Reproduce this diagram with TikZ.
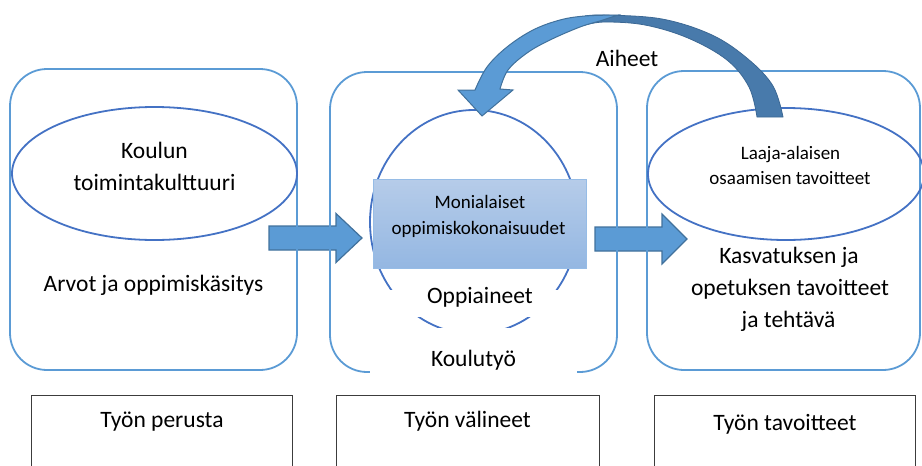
\documentclass[tikz,border=0pt]{standalone}
\usepackage{fontspec}
\setmainfont{Carlito}
\usetikzlibrary{shapes.geometric}
\definecolor{boxblue}{RGB}{91,155,213}
\definecolor{ellblue}{RGB}{68,114,196}
\definecolor{arrowfill}{RGB}{91,155,213}
\definecolor{arrowdraw}{RGB}{65,113,156}
\definecolor{darkband}{RGB}{72,122,171}
\definecolor{darkbanddraw}{RGB}{60,104,148}
\definecolor{recttop}{RGB}{182,204,233}
\definecolor{rectbot}{RGB}{148,183,226}
\definecolor{rectborder}{RGB}{150,188,230}
\definecolor{framegray}{RGB}{60,60,60}
\begin{document}
\begin{tikzpicture}[x=1pt,y=-1pt,
  bigtxt/.style={font=\fontsize{23.5}{28}\selectfont, anchor=base, inner sep=0pt, text=black},
  smalltxt/.style={font=\fontsize{19}{23}\selectfont, anchor=base, inner sep=0pt, text=black},
  roundbox/.style={draw=boxblue, line width=1.8pt, rounded corners=37pt, inner sep=0pt},
  ovalbox/.style={ellipse, draw=ellblue, line width=1.8pt, inner sep=0pt},
  blockarrow/.style={fill=arrowfill, draw=arrowdraw, line width=1.2pt, line join=miter},
  labelbox/.style={draw=framegray, line width=0.9pt, inner sep=0pt},
  cover/.style={fill=white, inner sep=0pt}
]
\useasboundingbox (0,0) rectangle (922,466);

% straight block arrows (below the frames)
\draw[blockarrow] (269,226) -- (336,226) -- (336,213.5) -- (362,238) -- (336,262.5) -- (336,250) -- (269,250) -- cycle;
\draw[blockarrow] (595,227) -- (662,227) -- (662,214) -- (687,239) -- (662,264) -- (662,251) -- (595,251) -- cycle;

% three rounded frames
\node[roundbox, minimum width=287pt, minimum height=301pt] (perusta) at (153.5,219.5) {};
\node[roundbox, minimum width=287pt, minimum height=300pt] (valineet) at (473.5,222) {};
\node[roundbox, minimum width=273pt, minimum height=299pt] (tavoitteet) at (783.5,220.5) {};

% ellipses
\node[ovalbox, minimum width=285pt, minimum height=133pt] (kulttuuri) at (154.5,173.5) {};
\node[ovalbox, minimum width=276pt, minimum height=132pt] (laaja) at (786,174) {};
\node[ovalbox, minimum width=208pt, minimum height=224pt] (oppiaineet) at (474,222) {};

% Monialaiset rectangle
\node[draw=rectborder, line width=1pt, top color=recttop, bottom color=rectbot,
      minimum width=213pt, minimum height=89pt, inner sep=0pt] (monialaiset) at (479.5,223.5) {};

% white covers that break the circle and frame line
\node[cover, minimum width=180pt, minimum height=27pt] (coverA) at (475,303) {};
\node[cover, minimum width=207pt, minimum height=57pt] (coverB) at (473.5,356.5) {};

% texts
\node[bigtxt] (t1) at (154.5,158) {Koulun};
\node[bigtxt] (t2) at (154.5,190) {toimintakulttuuri};
\node[bigtxt] (t3) at (153.5,291) {Arvot ja oppimiskäsitys};
\node[bigtxt] (t4) at (627,66) {Aiheet};
\node[smalltxt] (t5) at (480,208) {Monialaiset};
\node[smalltxt] (t6) at (478.5,234) {oppimiskokonaisuudet};
\node[bigtxt] (t7) at (480,303) {Oppiaineet};
\node[bigtxt] (t8) at (473.5,366) {Koulutyö};
\node[smalltxt] (t9) at (790.5,159) {Laaja-alaisen};
\node[smalltxt] (t10) at (790,184) {osaamisen tavoitteet};
\node[bigtxt] (t11) at (789,263) {Kasvatuksen ja};
\node[bigtxt] (t12) at (790,295) {opetuksen tavoitteet};
\node[bigtxt] (t13) at (788.5,327) {ja tehtävä};

% bottom label boxes (open at the bottom edge of the picture)
\node[labelbox, minimum width=261pt, minimum height=90pt] (b1) at (161.5,440) {};
\node[labelbox, minimum width=263pt, minimum height=90pt] (b2) at (467.5,440) {};
\node[labelbox, minimum width=261pt, minimum height=90pt] (b3) at (784.5,440) {};
\node[bigtxt] (t14) at (162,427) {Työn perusta};
\node[bigtxt] (t15) at (467.5,427) {Työn välineet};
\node[bigtxt] (t16) at (785,430) {Työn tavoitteet};

% curved block arrow "Aiheet" from the right ellipse to the middle circle
\filldraw[fill=darkband, draw=darkbanddraw, line width=0.8pt]
  plot[smooth, tension=0.6] coordinates {(783,117) (773,86) (748,59) (712,35) (662,19) (605,15) (585,16)}
  -- plot[smooth, tension=0.6] coordinates {(585,25) (605,22) (645,25) (688,38) (727,60) (749,87) (757,117)}
  -- cycle;
\filldraw[fill=arrowfill, draw=arrowdraw, line width=1pt, line join=miter]
  (458,90) -- (475,90)
  -- plot[smooth, tension=0.6] coordinates {(475,90) (487,67) (507,47) (533,30) (560,20) (585,16) (618,15)}
  -- plot[smooth, tension=0.6] coordinates {(600,21) (580,27) (550,40) (527,53) (508,70) (500,89)}
  -- (513,90) -- (482,116) -- cycle;
\end{tikzpicture}
\end{document}
